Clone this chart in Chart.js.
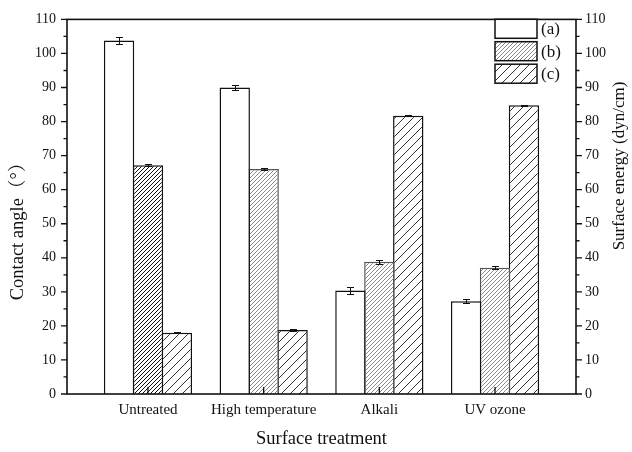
<!DOCTYPE html>
<html>
<head>
<meta charset="utf-8">
<script src="https://cdn.jsdelivr.net/npm/chart.js@4.4.1/dist/chart.umd.min.js"></script>
<style>
  html, body { margin: 0; padding: 0; background: #ffffff; }
  #c { display: block; }
</style>
</head>
<body>
<canvas id="c" width="632" height="452"></canvas>
<script>
// ---- data ----
const categories = ['Untreated', 'High temperature', 'Alkali', 'UV ozone'];
const seriesLabels = ['(a)', '(b)', '(c)'];
const contactAngle = [103.8, 90.0, 30.4, 27.2];       // (a) contact angle, left axis
const contactAngleErr = [1.0, 0.8, 0.9, 0.6];
const surfaceEnergyB = [67.2, 66.1, 38.8, 37.1];      // (b) surface energy, right axis
const surfaceEnergyBErr = [0.3, 0.4, 0.5, 0.4];
const surfaceEnergyC = [18.0, 18.8, 81.7, 84.8];      // (c) surface energy, right axis
const surfaceEnergyCErr = [0.2, 0.2, 0.2, 0.2];
const yTickValues = [0, 10, 20, 30, 40, 50, 60, 70, 80, 90, 100, 110];

const xTitle = 'Surface treatment';
const yLeftTitle = 'Contact angle\uFF08°\uFF09';
const yRightTitle = 'Surface energy (dyn/cm)';

const SERIF = "'Liberation Serif', 'Times New Roman', 'Noto Serif CJK SC', 'Noto Sans CJK SC', serif";

const canvas = document.getElementById('c');
const ctx = canvas.getContext('2d');

// diagonal hatch fill
function hatch(period, color, lw) {
  const t = document.createElement('canvas');
  t.width = period; t.height = period;
  const g = t.getContext('2d');
  g.fillStyle = '#ffffff';
  g.fillRect(0, 0, period, period);
  g.strokeStyle = color;
  g.lineWidth = lw;
  g.beginPath();
  g.moveTo(-1, period + 1); g.lineTo(period + 1, -1);
  g.moveTo(-1, 1); g.lineTo(1, -1);
  g.moveTo(period - 1, period + 1); g.lineTo(period + 1, period - 1);
  g.stroke();
  return ctx.createPattern(t, 'repeat');
}

const denseDark = hatch(4, '#111111', 1);
const denseGray = hatch(4, '#8a8a8a', 1);
const sparse = hatch(9, '#333333', 1);

const toPoints = arr => arr.map((v, i) => ({ x: i, y: v }));

const datasets = [
  {
    label: seriesLabels[0],
    data: toPoints(contactAngle),
    errors: contactAngleErr,
    yAxisID: 'y',
    backgroundColor: '#ffffff',
    borderColor: '#111111',
    legendFill: '#ffffff'
  },
  {
    label: seriesLabels[1],
    data: toPoints(surfaceEnergyB),
    errors: surfaceEnergyBErr,
    yAxisID: 'y1',
    backgroundColor: [denseDark, denseGray, denseGray, denseGray],
    borderColor: ['#111111', '#555555', '#555555', '#555555'],
    legendFill: denseGray
  },
  {
    label: seriesLabels[2],
    data: toPoints(surfaceEnergyC),
    errors: surfaceEnergyCErr,
    yAxisID: 'y1',
    backgroundColor: sparse,
    borderColor: '#111111',
    legendFill: sparse
  }
];

// frame, tick marks, error bars, legend and axis titles
const decorations = {
  id: 'decorations',
  afterDatasetsDraw(chart) {
    const c = chart.ctx;
    c.save();
    c.strokeStyle = '#111111';
    c.lineWidth = 1;
    chart.data.datasets.forEach((ds, d) => {
      const meta = chart.getDatasetMeta(d);
      const scale = chart.scales[meta.yAxisID];
      meta.data.forEach((bar, j) => {
        const v = ds.data[j].y, e = ds.errors[j];
        const yt = Math.round(scale.getPixelForValue(v + e)) + 0.5;
        const yb = Math.round(scale.getPixelForValue(v - e)) + 0.5;
        const x = Math.round(bar.x) + 0.5;
        c.beginPath();
        c.moveTo(x, yt); c.lineTo(x, yb);
        c.moveTo(x - 3.5, yt); c.lineTo(x + 3.5, yt);
        c.moveTo(x - 3.5, yb); c.lineTo(x + 3.5, yb);
        c.stroke();
      });
    });
    c.restore();
  },
  afterDraw(chart) {
    const c = chart.ctx;
    const a = chart.chartArea;
    const yl = chart.scales.y, yr = chart.scales.y1, xs = chart.scales.x;
    c.save();
    c.strokeStyle = '#111111';

    // tick marks
    c.lineWidth = 1.3;
    c.beginPath();
    for (let v = yl.min; v <= yl.max; v += 5) {
      const len = v % 10 === 0 ? 6 : 3.5;
      const p = yl.getPixelForValue(v);
      c.moveTo(a.left, p); c.lineTo(a.left - len, p);
      const q = yr.getPixelForValue(v);
      c.moveTo(a.right, q); c.lineTo(a.right + len, q);
    }
    categories.forEach((_, i) => {
      const px = xs.getPixelForValue(i);
      c.moveTo(px, a.bottom); c.lineTo(px, a.bottom - 7);
    });
    c.stroke();

    // frame
    c.lineWidth = 1.6;
    c.strokeRect(a.left, a.top, a.right - a.left, a.bottom - a.top);

    // legend
    const lx = 495, lw = 42, lh = 19, tops = [19.3, 41.7, 64.2];
    c.font = '17px ' + SERIF;
    c.textBaseline = 'middle';
    c.textAlign = 'left';
    c.fillStyle = '#111111';
    chart.data.datasets.forEach((ds, d) => {
      c.fillStyle = ds.legendFill;
      c.fillRect(lx, tops[d], lw, lh);
      c.lineWidth = 1.5;
      c.strokeRect(lx, tops[d], lw, lh);
      c.fillStyle = '#111111';
      c.fillText(ds.label, lx + lw + 4, tops[d] + lh / 2 + 1);
    });

    // axis titles
    c.font = '18.5px ' + SERIF;
    c.textAlign = 'center';
    c.textBaseline = 'middle';
    c.fillText(xTitle, (a.left + a.right) / 2, 439);

    c.save();
    c.translate(18.5, 227);
    c.rotate(-Math.PI / 2);
    c.fillText(yLeftTitle, 0, 0);
    c.restore();

    c.save();
    c.font = '17px ' + SERIF;
    c.translate(620, 166);
    c.rotate(-Math.PI / 2);
    c.fillText(yRightTitle, 0, 0);
    c.restore();

    c.restore();
  }
};

const tickFont = { family: SERIF, size: 14 };

new Chart(ctx, {
  type: 'bar',
  data: { datasets },
  options: {
    responsive: false,
    animation: false,
    devicePixelRatio: 1,
    layout: { padding: { top: 12.6, left: 0, right: 0, bottom: 0 } },
    datasets: {
      bar: {
        borderWidth: 1.5,
        categoryPercentage: 0.75,
        barPercentage: 1.05,
        borderSkipped: 'start'
      }
    },
    plugins: {
      legend: { display: false },
      tooltip: { enabled: false },
      title: { display: false }
    },
    scales: {
      x: {
        type: 'linear',
        min: -0.7,
        max: 3.7,
        offset: false,
        grid: { display: false, drawTicks: false },
        border: { display: false },
        afterBuildTicks: s => { s.ticks = categories.map((_, i) => ({ value: i })); },
        ticks: {
          autoSkip: false,
          maxRotation: 0,
          padding: 7,
          color: '#111111',
          font: { family: SERIF, size: 15 },
          callback: v => categories[v] ?? ''
        },
        afterFit: s => { s.height = 58; }
      },
      y: {
        position: 'left',
        min: 0,
        max: 110,
        grid: { display: false, drawTicks: false },
        border: { display: false },
        afterBuildTicks: s => { s.ticks = yTickValues.map(v => ({ value: v })); },
        ticks: { padding: 11, color: '#111111', font: tickFont },
        afterFit: s => { s.width = 67; }
      },
      y1: {
        position: 'right',
        min: 0,
        max: 110,
        grid: { display: false, drawTicks: false },
        border: { display: false },
        afterBuildTicks: s => { s.ticks = yTickValues.map(v => ({ value: v })); },
        ticks: { padding: 9, color: '#111111', font: tickFont },
        afterFit: s => { s.width = 56; }
      }
    }
  },
  plugins: [decorations]
});
</script>
</body>
</html>
